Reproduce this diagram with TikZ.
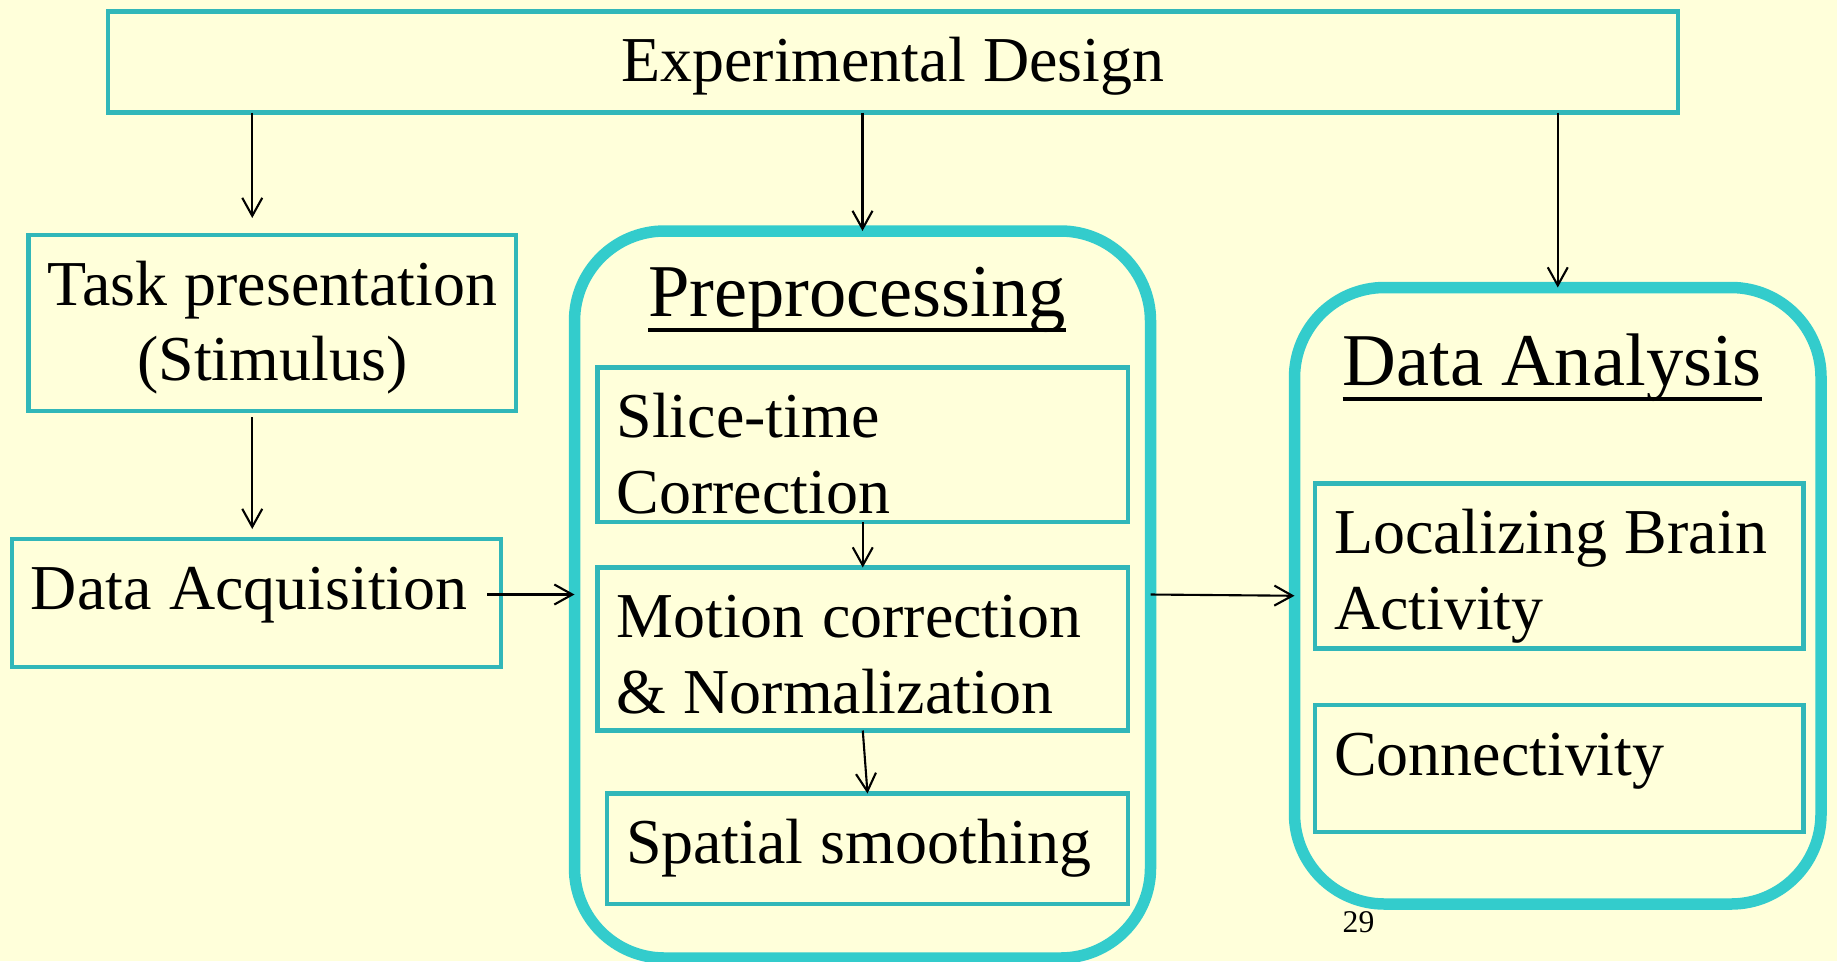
\documentclass[tikz,border=0pt]{standalone}
\usepackage{fontspec}
\setmainfont{Liberation Serif}
\usepackage{tikz}
\usetikzlibrary{arrows.meta}
\definecolor{slidebg}{RGB}{255,255,218}
\definecolor{boxline}{RGB}{49,183,185}
\definecolor{grpline}{RGB}{51,204,204}
\newcommand{\ulhead}[1]{\setbox0\hbox{#1}\rlap{\rule[-0.16cm]{\wd0}{0.04cm}}\box0\kern0.11cm\null}

\begin{document}
\begin{tikzpicture}[
	box/.style={rectangle,draw=boxline,line width=0.045cm,outer sep=0pt,anchor=north west,inner xsep=0.19cm,inner ysep=0pt,text height=0.7cm,align=left,font=\fontsize{18.2}{21.6}\selectfont,execute at begin node={\spaceskip=0.27em\relax}},
	group/.style={rectangle,draw=grpline,line width=0.115cm,outer sep=0pt,rounded corners=0.9cm,anchor=north west,inner sep=0pt,align=center,font=\fontsize{21.2}{25}\selectfont,execute at begin node={\spaceskip=0.24em\relax}},
	flow/.style={->,line width=0.6pt},
	>={Straight Barb[length=0.18cm,width=0.2cm]}]
	\fill[slidebg] (0,0) rectangle (18.37,-9.61);
	\useasboundingbox (0,0) rectangle (18.37,-9.61);

	\node[box,align=center,text width=15.32cm,text depth=0.31cm] (expDesign) at (1.078,-0.115) {Experimental Design};
	\node[box,align=center,inner xsep=0.1cm,text width=4.675cm,text depth=1.06cm] (taskPres) at (0.285,-2.35) {Task presentation\\(Stimulus)};
	\node[box,text width=4.51cm,text depth=0.58cm] (dataAcq) at (0.12,-5.39) {Data Acquisition};

	\node[group,text width=5.76cm,text height=0.85cm,text depth=6.42cm] (preproc) at (5.745,-2.31) {\ulhead{Preprocessing}};
	\node[box,text width=4.925cm,text depth=0.845cm] (sliceTime) at (5.975,-3.675) {Slice-time\\Correction};
	\node[box,text width=4.925cm,text depth=0.93cm] (motionCorr) at (5.975,-5.675) {Motion correction\\\& Normalization};
	\node[box,text width=4.83cm,text depth=0.405cm] (spatSmooth) at (6.07,-7.935) {Spatial smoothing};

	\node[group,text width=5.265cm,text height=0.975cm,text depth=5.19cm] (analysis) at (12.945,-2.875) {\ulhead{Data Analysis}};
	\node[box,text width=4.505cm,text depth=0.95cm] (localize) at (13.15,-4.835) {Localizing Brain\\Activity};
	\node[box,text width=4.505cm,text depth=0.57cm] (connect) at (13.15,-7.05) {Connectivity};

	\node[anchor=base west,inner sep=0pt,font=\fontsize{9}{10}\selectfont] (pageNum) at (13.42,-9.327) {29};

\draw[flow]([xshift=-0.2cm]taskPres.north |- expDesign.south) -- ([xshift=-0.2cm,yshift=0.17cm]taskPres.north);
\draw[flow](expDesign.south -| preproc.north) -- (preproc.north);
\draw[flow](expDesign.south -| analysis.north) -- (analysis.north);
\draw[flow]([xshift=-0.2cm,yshift=-0.06cm]taskPres.south) -- ([xshift=-0.2cm,yshift=0.1cm]taskPres.south |- dataAcq.north);
\draw[flow]([xshift=-0.14cm]dataAcq.east |- preproc.west) -- (preproc.west);
\draw[flow](sliceTime.south) -- (motionCorr.north);
\draw[flow](motionCorr.south) -- (spatSmooth.north);
\draw[flow](preproc.east) -- (analysis.west);

\end{tikzpicture}
\end{document}
